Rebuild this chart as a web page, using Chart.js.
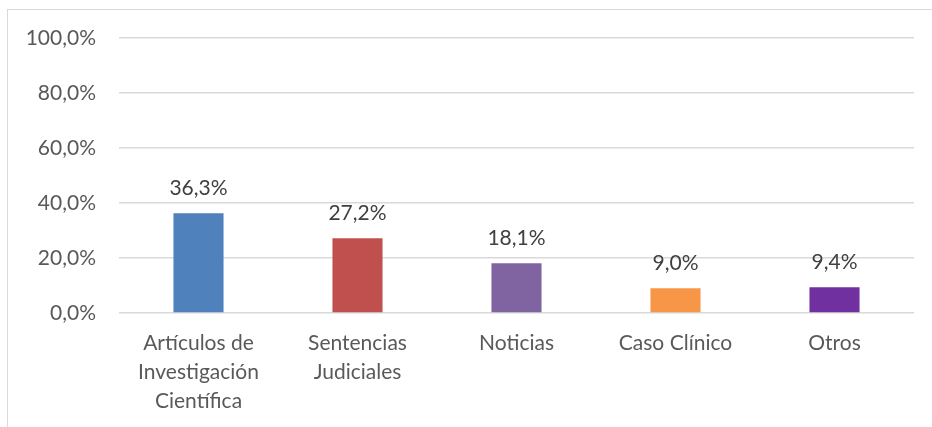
<!DOCTYPE html>
<html>
<head>
<meta charset="utf-8">
<script src="https://cdn.jsdelivr.net/npm/chart.js@4"></script>
<style>
  body { margin: 0; background: #fff; }
  #wrap { position: relative; width: 932px; height: 427px; }
  #frame { position: absolute; left: 7px; top: 9px; width: 940px; height: 440px; border: 1px solid #d9d9d9; box-sizing: border-box; }
  canvas { position: absolute; left: 0; top: 0; }
</style>
</head>
<body>
<div id="wrap">
  <div id="frame"></div>
  <canvas id="tipos" width="932" height="427"></canvas>
</div>
<script>
// Distribución por tipo de documento (%)
const categorias = [
  ['Artículos de', 'Investigación', 'Científica'],
  ['Sentencias', 'Judiciales'],
  'Noticias',
  'Caso Clínico',
  'Otros'
];
const porcentajes = [36.3, 27.2, 18.1, 9.0, 9.4];
const colores = ['#4F81BD', '#C0504D', '#8064A2', '#F79646', '#7030A0'];

const fmt = v => v.toFixed(1).replace('.', ',') + '%';

// etiquetas encima de cada barra
const etiquetas = {
  id: 'etiquetas',
  afterDatasetsDraw(chart) {
    const ctx = chart.ctx;
    const meta = chart.getDatasetMeta(0);
    ctx.save();
    ctx.font = '21px Lato';
    ctx.fillStyle = '#404040';
    ctx.textAlign = 'center';
    ctx.textBaseline = 'alphabetic';
    meta.data.forEach((bar, i) => {
      ctx.fillText(fmt(porcentajes[i]), bar.x, bar.y - 18);
    });
    ctx.restore();
  }
};

new Chart(document.getElementById('tipos'), {
  type: 'bar',
  data: {
    labels: categorias,
    datasets: [{
      data: porcentajes,
      backgroundColor: colores,
      categoryPercentage: 1,
      barPercentage: 0.315
    }]
  },
  options: {
    responsive: false,
    animation: false,
    events: [],
    layout: { padding: { left: 0, right: 18, top: 38, bottom: 0 } },
    plugins: { legend: { display: false }, tooltip: { enabled: false } },
    scales: {
      x: {
        grid: { display: false },
        border: { display: false },
        ticks: {
          color: '#595959',
          font: { family: 'Lato', size: 21, lineHeight: 1.38 },
          padding: 8,
          maxRotation: 0,
          autoSkip: false
        },
        afterFit(s) { s.height = 427 - 313; }
      },
      y: {
        min: 0,
        max: 100,
        ticks: {
          stepSize: 20,
          color: '#595959',
          font: { family: 'Lato', size: 21 },
          padding: 23,
          callback: v => fmt(v)
        },
        grid: { color: '#d9d9d9', lineWidth: 1.5, drawTicks: false },
        border: { display: false },
        afterFit(s) { s.width = 119; }
      }
    }
  },
  plugins: [etiquetas]
});
</script>
</body>
</html>
